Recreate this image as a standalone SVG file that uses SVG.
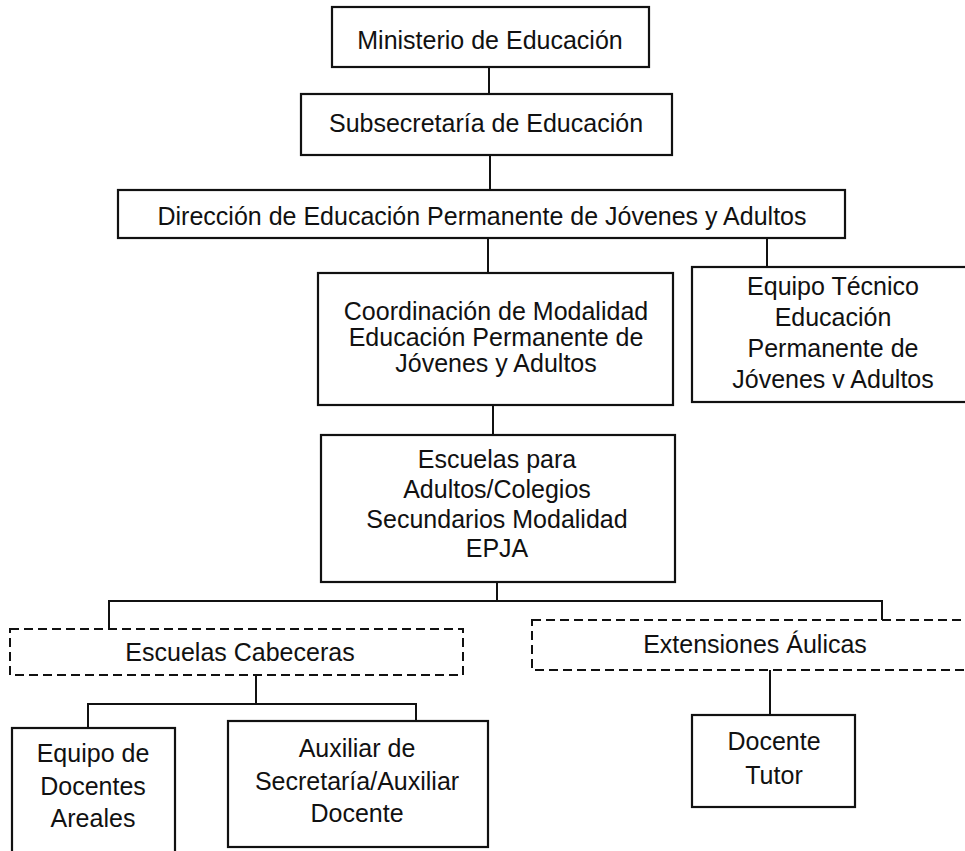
<svg xmlns="http://www.w3.org/2000/svg" width="965" height="851" viewBox="0 0 965 851">
<style>
  .box { fill: #ffffff; stroke: #111111; stroke-width: 2.2; }
  .dash { fill: none; stroke: #111111; stroke-width: 2; stroke-dasharray: 9 5; }
  .t { font-family: "Liberation Sans", Arial, sans-serif; font-size: 25px; fill: #111111; text-anchor: middle; }
  .c { fill: none; stroke: #111111; stroke-width: 2; }
</style>
<rect width="965" height="851" fill="#ffffff"/>
<g id="connectors">
  <line class="c" x1="489" y1="67" x2="489" y2="94"/>
  <line class="c" x1="490" y1="155" x2="490" y2="190"/>
  <line class="c" x1="488" y1="238" x2="488" y2="273"/>
  <line class="c" x1="767" y1="236" x2="767" y2="267"/>
  <line class="c" x1="493" y1="405" x2="493" y2="435"/>
  <line class="c" x1="497" y1="582" x2="497" y2="601"/>
  <polyline class="c" points="109,629 109,601 882,601 882,620"/>
  <line class="c" x1="256" y1="675" x2="256" y2="704"/>
  <polyline class="c" points="88,728 88,704 416,704 416,721"/>
  <line class="c" x1="770" y1="670" x2="770" y2="715"/>
</g>
<g id="ministerio">
  <rect class="box" x="332" y="7" width="317" height="60"/>
  <text class="t" x="490" y="49">Ministerio de Educación</text>
</g>
<g id="subsecretaria">
  <rect class="box" x="301" y="94" width="371" height="61"/>
  <text class="t" x="486" y="132">Subsecretaría de Educación</text>
</g>
<g id="direccion">
  <rect class="box" x="118" y="190" width="727" height="48"/>
  <text class="t" x="482" y="225">Dirección de Educación Permanente de Jóvenes y Adultos</text>
</g>
<g id="coordinacion">
  <rect class="box" x="318" y="273" width="355" height="132"/>
  <text class="t" x="496" y="320">Coordinación de Modalidad</text>
  <text class="t" x="496" y="346">Educación Permanente de</text>
  <text class="t" x="496" y="372">Jóvenes y Adultos</text>
</g>
<g id="equipo-tecnico">
  <rect class="box" x="692" y="267" width="290" height="135"/>
  <text class="t" x="833" y="295">Equipo Técnico</text>
  <text class="t" x="833" y="326">Educación</text>
  <text class="t" x="833" y="357">Permanente de</text>
  <text class="t" x="833" y="388">Jóvenes v Adultos</text>
</g>
<g id="escuelas">
  <rect class="box" x="321" y="435" width="354" height="147"/>
  <text class="t" x="497" y="468">Escuelas para</text>
  <text class="t" x="497" y="498">Adultos/Colegios</text>
  <text class="t" x="497" y="528">Secundarios Modalidad</text>
  <text class="t" x="497" y="557">EPJA</text>
</g>
<g id="escuelas-cabeceras">
  <rect class="dash" x="10" y="629" width="453" height="46"/>
  <text class="t" x="240" y="661">Escuelas Cabeceras</text>
</g>
<g id="extensiones-aulicas">
  <rect class="dash" x="532" y="620" width="450" height="50"/>
  <text class="t" x="755" y="653">Extensiones Áulicas</text>
</g>
<g id="equipo-docentes">
  <rect class="box" x="12" y="728" width="163" height="140"/>
  <text class="t" x="93" y="762">Equipo de</text>
  <text class="t" x="93" y="795">Docentes</text>
  <text class="t" x="93" y="827">Areales</text>
</g>
<g id="auxiliar">
  <rect class="box" x="228" y="721" width="260" height="126"/>
  <text class="t" x="357" y="757">Auxiliar de</text>
  <text class="t" x="357" y="790">Secretaría/Auxiliar</text>
  <text class="t" x="357" y="822">Docente</text>
</g>
<g id="docente-tutor">
  <rect class="box" x="692" y="715" width="163" height="92"/>
  <text class="t" x="774" y="750">Docente</text>
  <text class="t" x="774" y="784">Tutor</text>
</g>
</svg>
